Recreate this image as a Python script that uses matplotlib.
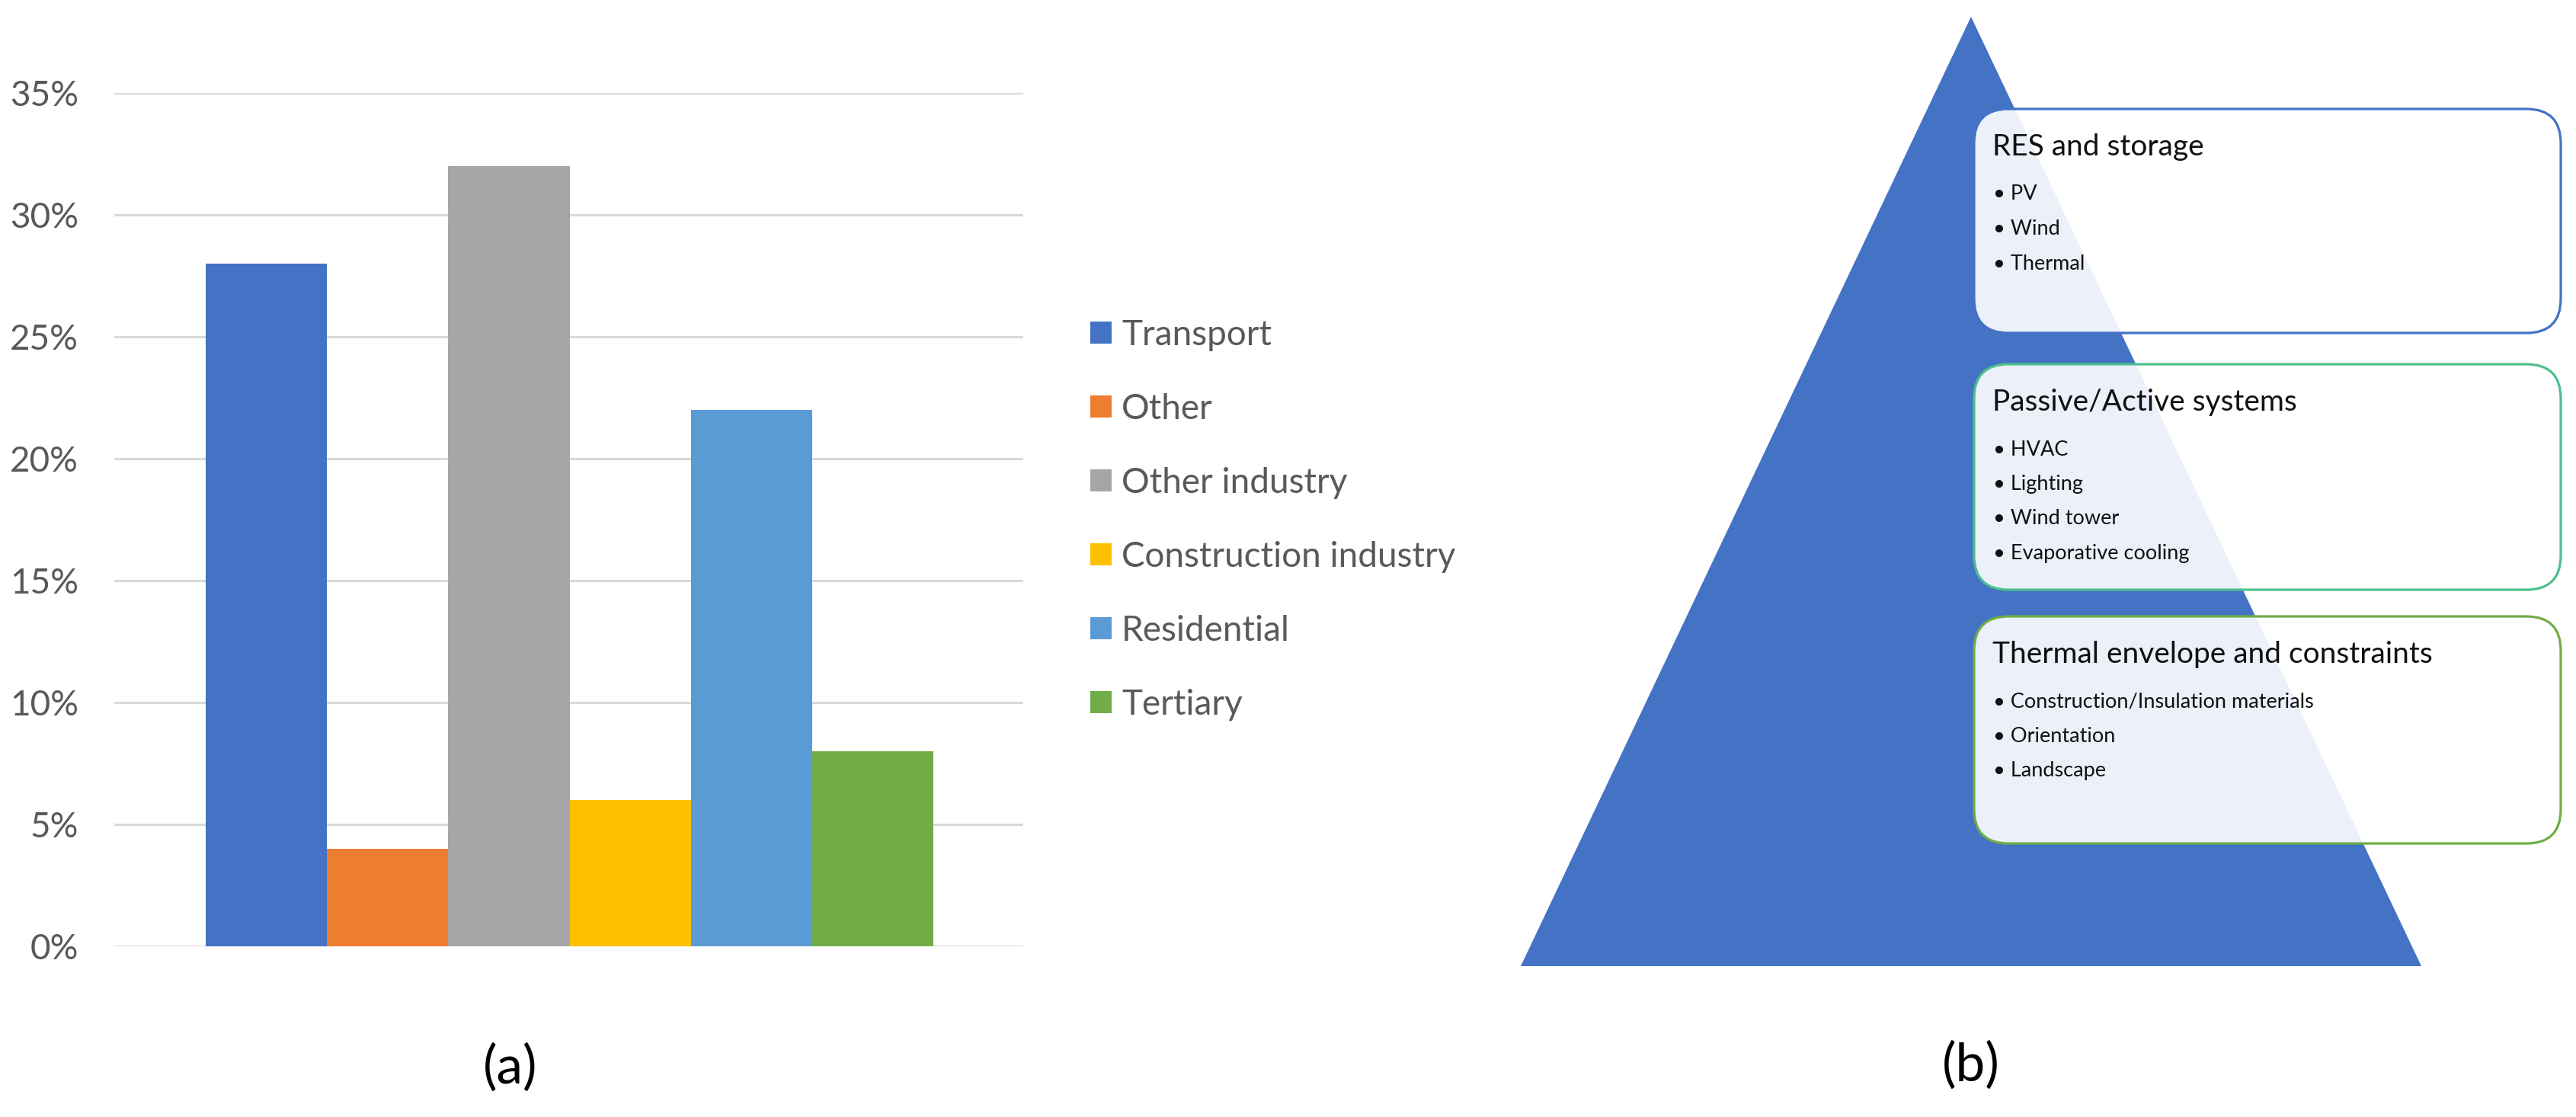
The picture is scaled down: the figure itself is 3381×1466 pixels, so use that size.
import matplotlib
matplotlib.use("Agg")
import matplotlib.pyplot as plt
from matplotlib.patches import Polygon, FancyBboxPatch
from matplotlib.ticker import PercentFormatter

# ---------------- data ----------------
categories = ["Transport", "Other", "Other industry", "Construction industry",
              "Residential", "Tertiary"]
shares = [0.28, 0.04, 0.32, 0.06, 0.22, 0.08]
bar_colors = ["#4472C4", "#ED7D31", "#A5A5A5", "#FFC000", "#5B9BD5", "#70AD47"]
y_ticks = [0.0, 0.05, 0.10, 0.15, 0.20, 0.25, 0.30, 0.35]

box_titles = ["RES and storage", "Passive/Active systems",
              "Thermal envelope and constraints"]
box_items = [["PV", "Wind", "Thermal"],
             ["HVAC", "Lighting", "Wind tower", "Evaporative cooling"],
             ["Construction/Insulation materials", "Orientation", "Landscape"]]
box_edge_colors = ["#4472C4", "#4CC08C", "#70AD47"]

panel_labels = ["(a)", "(b)"]

FONT = ["Lato", "DejaVu Sans"]
plt.rcParams["font.family"] = FONT

W, H = 3381, 1466
fig = plt.figure(figsize=(W / 100, H / 100), dpi=100)

# ---------------- (a) bar chart ----------------
ax = fig.add_axes([150 / W, 1 - 1242 / H, (1343 - 150) / W, (1242 - 122) / H])
xpos = list(range(len(categories)))
for i, (c, v, col) in enumerate(zip(categories, shares, bar_colors)):
    ax.bar(xpos[i], v, width=1.0, color=col, label=c, zorder=3)
ax.set_xlim(-1.254, 6.241)
ax.set_ylim(0, 0.35)
ax.set_yticks(y_ticks)
ax.yaxis.set_major_formatter(PercentFormatter(xmax=1, decimals=0))
ax.set_xticks([])
ax.grid(axis="y", color="#D9D9D9", linewidth=2.2, zorder=0)
for s in ax.spines.values():
    s.set_visible(False)
ax.tick_params(axis="y", length=0, pad=34, labelsize=33, labelcolor="#595959")
ax.set_facecolor("none")

leg = fig.legend(loc="center left", bbox_to_anchor=(1431 / W, 1 - 682 / H),
                 frameon=False, fontsize=33, handlelength=0.6, handleheight=0.6,
                 handletextpad=0.3, labelspacing=1.2, borderpad=0, borderaxespad=0)
for t in leg.get_texts():
    t.set_color("#595959")

fig.text(670 / W, 1 - 1401 / H, panel_labels[0], ha="center", va="center",
         fontsize=50, color="#000000")

# ---------------- (b) pyramid diagram ----------------
x0 = 1900
dax = fig.add_axes([x0 / W, 0, (W - x0) / W, 1])
dax.set_xlim(x0, W)
dax.set_ylim(H, 0)
dax.axis("off")

tri_x = [1996, 2587, 3178]
tri_y = [1268, 22, 1268]
dax.add_patch(Polygon(list(zip(tri_x, tri_y)), closed=True, facecolor="#4472C4",
                      edgecolor="none", zorder=1))

box_left, box_right = 2591, 3361
box_tops = [143, 478, 809]
box_bottoms = [437, 774, 1107]
for k in range(3):
    bx = FancyBboxPatch((box_left, box_tops[k]), box_right - box_left,
                        box_bottoms[k] - box_tops[k],
                        boxstyle="round,pad=0,rounding_size=45",
                        facecolor=(1, 1, 1, 0.9), edgecolor=box_edge_colors[k],
                        linewidth=2.3, zorder=2)
    dax.add_patch(bx)
    dax.text(2615, box_tops[k] + 50, box_titles[k], ha="left", va="center",
             fontsize=28, color="#111111", zorder=3)
    for j, item in enumerate(box_items[k]):
        dax.text(2616, box_tops[k] + 112 + j * 45.5, "\u2022 " + item, ha="left",
                 va="center", fontsize=19.5, color="#111111", zorder=3)

fig.text(2587 / W, 1 - 1398 / H, panel_labels[1], ha="center", va="center",
         fontsize=50, color="#000000")

fig.savefig("out.png", dpi=100, facecolor="white")
